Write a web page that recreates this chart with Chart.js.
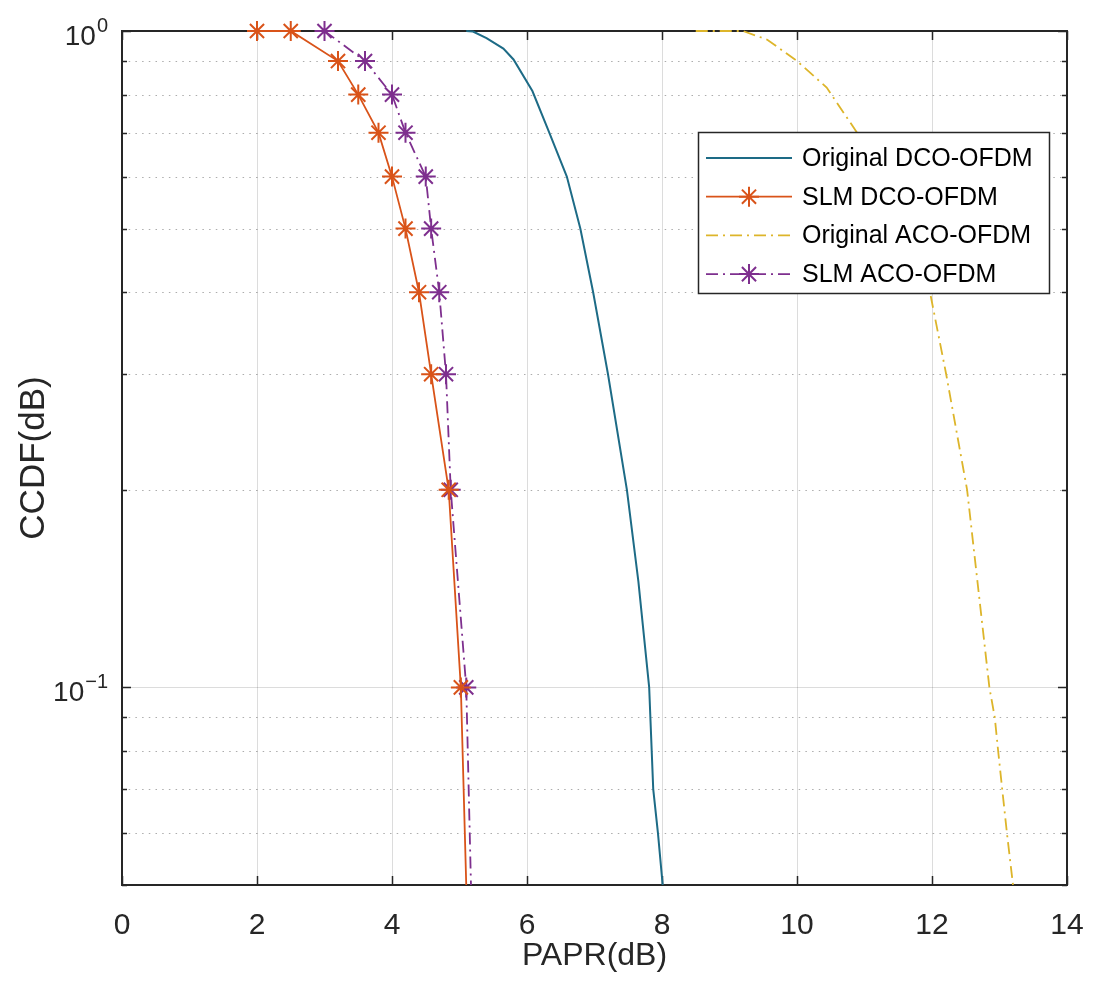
<!DOCTYPE html>
<html>
<head>
<meta charset="utf-8">
<script src="https://cdn.jsdelivr.net/npm/chart.js@4.4.1/dist/chart.umd.min.js"></script>
<style>
  html, body { margin: 0; padding: 0; background: #ffffff; overflow: hidden; }
  #wrap { width: 1093px; height: 994px; position: relative; }
  #wrap canvas { display: block; }
</style>
</head>
<body>
<div id="wrap"><canvas id="ccdf"></canvas></div>
<script>
// PAPR (dB) / CCDF values for each curve
const paprOrigDco = [5.1, 5.2, 5.4, 5.65, 5.8, 6.08, 6.33, 6.59, 6.79, 6.98, 7.2, 7.48, 7.65, 7.81, 7.87, 7.94, 8.01];
const ccdfOrigDco = [1.0, 0.998, 0.975, 0.94, 0.905, 0.81, 0.7, 0.6, 0.5, 0.4, 0.3, 0.2, 0.145, 0.1, 0.07, 0.06, 0.05];

const paprSlmDco = [2.0, 2.5, 3.2, 3.5, 3.8, 4.0, 4.2, 4.4, 4.58, 4.84, 5.02, 5.1];
const ccdfSlmDco = [1.0, 1.0, 0.9, 0.8, 0.7, 0.6, 0.5, 0.4, 0.3, 0.2, 0.1, 0.05];

const paprOrigAco = [8.5, 9.2, 9.56, 10.0, 10.44, 10.89, 11.3, 11.66, 11.97, 12.21, 12.52, 12.67, 12.85, 12.93, 12.98, 13.04, 13.11, 13.2];
const ccdfOrigAco = [1.0, 1.0, 0.97, 0.9, 0.82, 0.7, 0.6, 0.5, 0.4, 0.3, 0.2, 0.146, 0.1, 0.09, 0.08, 0.07, 0.06, 0.05];

const paprSlmAco = [3.0, 3.6, 4.0, 4.2, 4.5, 4.58, 4.7, 4.8, 4.87, 5.1, 5.17];
const ccdfSlmAco = [1.0, 0.9, 0.8, 0.7, 0.6, 0.5, 0.4, 0.3, 0.2, 0.1, 0.05];

// Axis ticks
const xTickValues = [0, 2, 4, 6, 8, 10, 12, 14];
const yTickValues = [0.05, 0.06, 0.07, 0.08, 0.09, 0.1, 0.2, 0.3, 0.4, 0.5, 0.6, 0.7, 0.8, 0.9, 1];

const X_MIN = 0, X_MAX = 14, Y_MIN = 0.05, Y_MAX = 1;

const FONT = "'Liberation Sans', Arial, Helvetica, sans-serif";
const AXIS_INK = '#262626';
const TEAL = '#1d6b86';
const ORANGE = '#d95319';
const GOLD = '#ddb52a';
const PURPLE = '#7e2f8e';
const DASH_DOT = [12, 5, 2, 5];

Chart.defaults.font.family = FONT;

const toPoints = (xs, ys) => xs.map((v, i) => ({ x: v, y: ys[i] }));
const isDecade = v => Math.abs(Math.log10(v) - Math.round(Math.log10(v))) < 1e-9;

// asterisk marker radius, hidden where a curve leaves through the lower axis limit
const starRadius = ctx => (ctx.raw && ctx.raw.y <= Y_MIN + 1e-9) ? 0 : 10;

function drawStar(ctx, cx, cy, r, color, width) {
  ctx.save();
  ctx.setLineDash([]);
  ctx.strokeStyle = color;
  ctx.lineWidth = width;
  ctx.beginPath();
  const d = r * Math.SQRT1_2;
  ctx.moveTo(cx - r, cy); ctx.lineTo(cx + r, cy);
  ctx.moveTo(cx, cy - r); ctx.lineTo(cx, cy + r);
  ctx.moveTo(cx - d, cy - d); ctx.lineTo(cx + d, cy + d);
  ctx.moveTo(cx - d, cy + d); ctx.lineTo(cx + d, cy - d);
  ctx.stroke();
  ctx.restore();
}

// Grid, box and ticks sit under the curves; legend goes on top
const axesPlugin = {
  id: 'matlabAxes',
  beforeDatasetsDraw(chart) {
    const { ctx, chartArea: a, scales: { x, y } } = chart;
    ctx.save();
    ctx.lineWidth = 1;
    // vertical major grid
    ctx.strokeStyle = 'rgba(38,38,38,0.16)';
    ctx.setLineDash([]);
    x.ticks.forEach(t => {
      const px = Math.round(x.getPixelForValue(t.value)) + 0.5;
      if (px <= a.left + 1 || px >= a.right - 1) return;
      ctx.beginPath(); ctx.moveTo(px, a.top); ctx.lineTo(px, a.bottom); ctx.stroke();
    });
    // horizontal grid: solid at decades, dotted in between
    y.ticks.forEach(t => {
      const py = Math.round(y.getPixelForValue(t.value)) + 0.5;
      if (py <= a.top + 1 || py >= a.bottom - 1) return;
      if (isDecade(t.value)) {
        ctx.strokeStyle = 'rgba(38,38,38,0.16)';
        ctx.setLineDash([]);
      } else {
        ctx.strokeStyle = 'rgba(38,38,38,0.38)';
        ctx.setLineDash([1.5, 5.2]);
      }
      ctx.beginPath(); ctx.moveTo(a.left, py); ctx.lineTo(a.right, py); ctx.stroke();
    });

    ctx.setLineDash([]);
    ctx.strokeStyle = AXIS_INK;
    ctx.lineWidth = 1.5;
    // inward tick marks on all four sides
    ctx.beginPath();
    x.ticks.forEach(t => {
      const px = Math.round(x.getPixelForValue(t.value)) + 0.5;
      ctx.moveTo(px, a.bottom); ctx.lineTo(px, a.bottom - 9);
      ctx.moveTo(px, a.top); ctx.lineTo(px, a.top + 9);
    });
    y.ticks.forEach(t => {
      const py = Math.round(y.getPixelForValue(t.value)) + 0.5;
      const len = isDecade(t.value) ? 9 : 5;
      ctx.moveTo(a.left, py); ctx.lineTo(a.left + len, py);
      ctx.moveTo(a.right, py); ctx.lineTo(a.right - len, py);
    });
    ctx.stroke();
    // axes box
    ctx.lineWidth = 2;
    ctx.strokeRect(a.left, a.top, a.right - a.left, a.bottom - a.top);

    // decade labels 10^n on the y axis
    ctx.fillStyle = AXIS_INK;
    ctx.textBaseline = 'alphabetic';
    y.ticks.forEach(t => {
      if (!isDecade(t.value)) return;
      const py = y.getPixelForValue(t.value);
      const exp = String(Math.round(Math.log10(t.value))).replace('-', '\u2212');
      ctx.font = '20px ' + FONT;
      const ew = ctx.measureText(exp).width;
      ctx.font = '28px ' + FONT;
      const bw = ctx.measureText('10').width;
      const right = a.left - 14;
      ctx.textAlign = 'left';
      ctx.fillText('10', right - ew - bw - 1, py + 14);
      ctx.font = '20px ' + FONT;
      ctx.fillText(exp, right - ew, py + 1);
    });
    ctx.restore();
  },
  afterDatasetsDraw(chart) {
    const { ctx, chartArea: a } = chart;
    ctx.save();
    // legend box inside the axes
    const lw = 351, lh = 161;
    const lx = a.right - 18 - lw, ly = a.top + 101;
    ctx.fillStyle = '#ffffff';
    ctx.fillRect(lx, ly, lw, lh);
    ctx.lineWidth = 1.5;
    ctx.strokeStyle = '#262626';
    ctx.strokeRect(lx + 0.5, ly + 0.5, lw, lh);
    chart.data.datasets.forEach((ds, i) => {
      const cy = ly + 26 + i * 38.7;
      ctx.save();
      ctx.strokeStyle = ds.borderColor;
      ctx.lineWidth = ds.borderWidth;
      ctx.setLineDash(ds.borderDash || []);
      ctx.beginPath(); ctx.moveTo(lx + 8, cy); ctx.lineTo(lx + 94, cy); ctx.stroke();
      ctx.restore();
      if (ds.pointStyle === 'star') drawStar(ctx, lx + 51, cy, 10, ds.pointBorderColor, ds.pointBorderWidth);
      ctx.fillStyle = '#000000';
      ctx.font = '25px ' + FONT;
      ctx.textAlign = 'left';
      ctx.textBaseline = 'middle';
      ctx.fillText(ds.label, lx + 104, cy + 1);
    });
    ctx.restore();
  }
};

new Chart(document.getElementById('ccdf'), {
  type: 'line',
  data: {
    datasets: [
      {
        label: 'Original DCO-OFDM',
        data: toPoints(paprOrigDco, ccdfOrigDco),
        borderColor: TEAL, borderWidth: 2, pointRadius: 0, tension: 0,
        clip: 4
      },
      {
        label: 'SLM DCO-OFDM',
        data: toPoints(paprSlmDco, ccdfSlmDco),
        borderColor: ORANGE, borderWidth: 1.8, tension: 0,
        pointStyle: 'star', pointRadius: starRadius, pointHoverRadius: starRadius,
        pointBorderColor: ORANGE, pointBackgroundColor: ORANGE, pointBorderWidth: 2,
        clip: false
      },
      {
        label: 'Original ACO-OFDM',
        data: toPoints(paprOrigAco, ccdfOrigAco),
        borderColor: GOLD, borderWidth: 1.8, borderDash: DASH_DOT, pointRadius: 0, tension: 0,
        clip: 4
      },
      {
        label: 'SLM ACO-OFDM',
        data: toPoints(paprSlmAco, ccdfSlmAco),
        borderColor: PURPLE, borderWidth: 1.8, borderDash: DASH_DOT, tension: 0,
        pointStyle: 'star', pointRadius: starRadius, pointHoverRadius: starRadius,
        pointBorderColor: PURPLE, pointBackgroundColor: PURPLE, pointBorderWidth: 2,
        clip: false
      }
    ]
  },
  options: {
    responsive: true,
    maintainAspectRatio: false,
    animation: false,
    events: [],
    layout: { padding: { top: 31, right: 26, bottom: 0, left: 0 } },
    plugins: { legend: { display: false }, tooltip: { enabled: false } },
    scales: {
      x: {
        type: 'linear', min: X_MIN, max: X_MAX,
        afterBuildTicks: s => { s.ticks = xTickValues.map(v => ({ value: v })); },
        afterFit: s => { s.height = 109; s.paddingLeft = 0; s.paddingRight = 0; },
        grid: { display: false, drawTicks: false },
        border: { display: false },
        ticks: { padding: 23, color: AXIS_INK, font: { size: 30 }, maxRotation: 0, callback: v => String(v) },
        title: { display: true, text: 'PAPR(dB)', color: AXIS_INK, font: { size: 32 }, padding: { top: 0, bottom: 19 } }
      },
      y: {
        type: 'logarithmic', min: Y_MIN, max: Y_MAX,
        afterBuildTicks: s => { s.ticks = yTickValues.map(v => ({ value: v, major: isDecade(v) })); },
        afterFit: s => { s.width = 122; s.paddingTop = 0; s.paddingBottom = 0; },
        grid: { display: false, drawTicks: false },
        border: { display: false },
        ticks: { display: false },
        title: { display: true, text: 'CCDF(dB)', color: AXIS_INK, font: { size: 35 }, padding: { top: 13, bottom: 0 } }
      }
    }
  },
  plugins: [axesPlugin]
});
</script>
</body>
</html>
